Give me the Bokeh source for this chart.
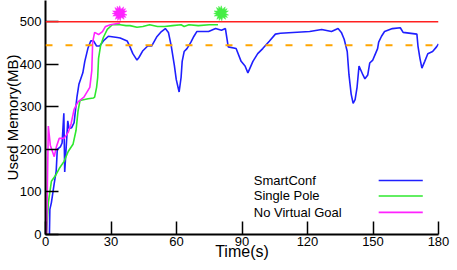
import math
from bokeh.plotting import figure
from bokeh.models import Range1d, FixedTicker, Span
from bokeh.embed import file_html
from bokeh.resources import INLINE
from bokeh.core.properties import value

# ---- data ----
smart_t = [1.8, 2.0, 2.7, 4.0, 4.9, 5.4, 6.8, 7.6, 8.4, 8.8, 10.2, 10.8, 12.0, 13.1, 14.4, 15.3, 17.1, 18.0, 19.4, 20.7,
           22.0, 23.4, 24.8, 26.5, 28.8, 32.9, 34.2, 37.4, 38.7, 40.0, 41.9, 42.8, 44.6, 46.8, 48.6, 50.9, 53.1, 54.9, 56.3, 57.6,
           59.0, 59.9, 61.2, 62.1, 62.6, 63.5, 64.8, 66.6, 68.0, 69.3, 74.7, 77.9, 80.6, 82.4, 83.7, 87.3, 89.6, 91.4, 92.7, 95.0,
           97.2, 99.5, 102.6, 105.3, 107.6, 121.0, 126.5, 131.0, 134.0, 135.5, 136.8, 138.2, 139.0, 140.0, 140.9, 141.8, 142.7, 143.6, 145.4, 146.3,
           147.6, 148.5, 149.9, 150.8, 152.1, 152.6, 153.9, 155.3, 158.9, 162.5, 163.8, 170.1, 170.6, 171.5, 172.4, 173.7, 175.1, 177.3, 179.1, 180.0]
smart_v = [0, 59, 75, 120, 149, 200, 206, 215, 285, 147, 267, 249, 251, 263, 323, 353, 380, 407, 437, 455,
           455, 443, 443, 455, 466, 463, 462, 455, 441, 425, 410, 416, 432, 443, 443, 464, 477, 484, 475, 443,
           398, 364, 335, 369, 407, 430, 437, 452, 466, 477, 477, 484, 480, 484, 441, 437, 407, 396, 380, 407,
           425, 437, 455, 471, 473, 477, 482, 477, 484, 475, 459, 430, 375, 330, 308, 317, 346, 396, 375, 366,
           375, 403, 410, 421, 437, 452, 466, 477, 484, 486, 475, 471, 443, 414, 391, 407, 425, 430, 441, 448]

single_t = [0.5, 1.3, 2.7, 4.5, 6.3, 8.5, 10.4, 12.6, 14.0, 14.9, 15.8, 19.5, 22.0, 22.5, 23.4, 23.9, 24.3, 25.2, 26.5, 28.3,
            30.6, 34.2, 36.9, 38.7, 41.9, 44.6, 47.7, 51.3, 54.5, 58.1, 62.1, 63.5, 65.7, 70.0, 75.0, 79.0]
single_v = [0, 75, 125, 138, 155, 172, 195, 212, 245, 290, 315, 319, 321, 323, 346, 369, 414, 443, 463, 482,
            493, 493, 491, 491, 487, 489, 493, 489, 489, 491, 493, 489, 493, 491, 493, 493]

novg_t = [0.5, 1.3, 2.2, 4.0, 5.0, 6.3, 8.5, 10.4, 11.7, 13.1, 14.9, 17.6, 20.3, 21.2, 21.6, 22.5, 24.3, 26.1, 27.5, 29.7, 34.2]
novg_v = [0, 255, 210, 183, 206, 226, 226, 240, 260, 294, 312, 323, 346, 385, 452, 475, 470, 477, 489, 493, 497]

limit_mb = 500
goal_mb = 445
star_t = [34.0, 80.5]
star_v = [520, 520]
star_colors = ["#ff22ff", "#44ee44"]

x_ticks = [0, 30, 60, 90, 120, 150, 180]
y_ticks = [0, 100, 200, 300, 400, 500]
series_names = ["SmartConf", "Single Pole", "No Virtual Goal"]
series_colors = ["#1f1fff", "#2ee82e", "#ff22ff"]
legend_y = [127, 90.5, 52]

FONT = "Liberation Sans"

p = figure(frame_width=393, frame_height=234, x_range=Range1d(0, 180), y_range=Range1d(0, 550),
           output_backend="svg", toolbar_location=None,
           min_border_left=0, min_border_right=12, min_border_top=0, min_border_bottom=0,
           x_axis_label="Time(s)", y_axis_label="Used Memory(MB)")
p.outline_line_color = None
p.grid.visible = False
p.background_fill_color = "white"
p.border_fill_color = "white"

for ax, ticks in ((p.xaxis, x_ticks), (p.yaxis, y_ticks)):
    ax.ticker = FixedTicker(ticks=ticks)
    ax.axis_line_width = 2
    ax.axis_line_color = "black"
    ax.major_tick_in = 13
    ax.major_tick_out = 0
    ax.major_tick_line_width = 1.5
    ax.major_tick_line_color = "black"
    ax.minor_tick_line_color = None
    ax.major_label_text_font = FONT
    ax.major_label_text_font_size = "13px"
    ax.major_label_text_color = "black"
    ax.axis_label_text_font = FONT
    ax.axis_label_text_font_style = "normal"
    ax.axis_label_text_color = "black"
p.xaxis.axis_label_text_font_size = "16px"
p.yaxis.axis_label_text_font_size = "15px"
p.xaxis.major_label_standoff = 2
p.xaxis.axis_label_standoff = -6
p.yaxis.major_label_standoff = 4
p.yaxis.axis_label_standoff = -4

# reference lines
p.add_layout(Span(location=limit_mb, dimension="width", line_color="#ff2020", line_width=1.5))
p.add_layout(Span(location=goal_mb, dimension="width", line_color="#ffa500", line_width=2, line_dash="7 13"))

# series
p.line(smart_t, smart_v, line_color=series_colors[0], line_width=1.6)
p.line(single_t, single_v, line_color=series_colors[1], line_width=1.6)
p.line(novg_t, novg_v, line_color=series_colors[2], line_width=1.6)

# burst markers
for ang in (0.0, 0.35, 0.7):
    p.scatter(star_t, star_v, marker="star", size=15, angle=ang,
              fill_color=star_colors, line_color=star_colors, line_width=0.5)

# legend (text left, line right)
for name, col, ly in zip(series_names, series_colors, legend_y):
    p.text(x=[95.4], y=[ly], text=[name], text_font=value(FONT), text_font_size="13px",
           text_baseline="middle", text_align="left", text_color="black")
    p.segment(x0=[152.6], y0=[ly], x1=[172.8], y1=[ly], line_color=col, line_width=1.6)

open("out.html", "w").write(file_html(p, INLINE))
